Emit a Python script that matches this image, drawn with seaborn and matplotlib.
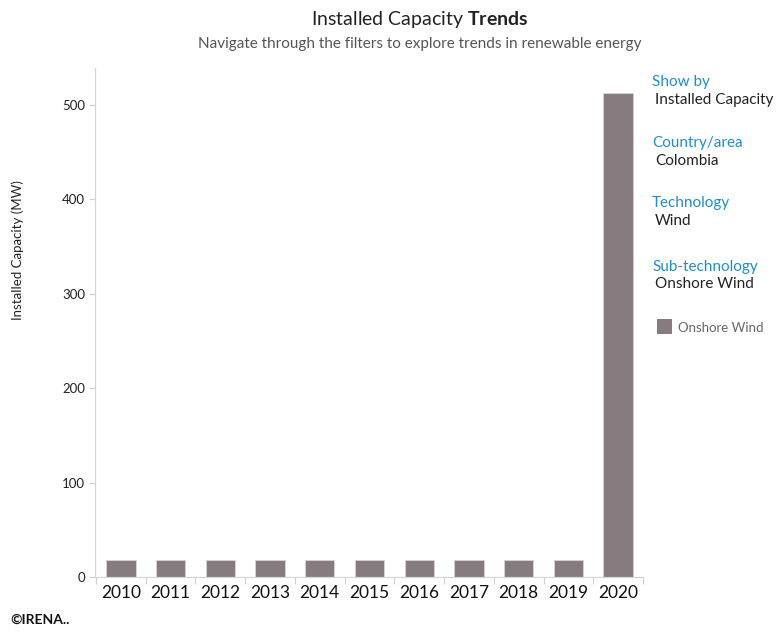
import matplotlib
matplotlib.use("Agg")
import matplotlib.pyplot as plt
import seaborn as sns
import pandas as pd

years = ["2010", "2011", "2012", "2013", "2014", "2015", "2016", "2017", "2018", "2019", "2020"]
capacity = [18.4, 18.4, 18.4, 18.4, 18.4, 18.4, 18.4, 18.4, 18.4, 18.4, 512]
yticks = [0, 100, 200, 300, 400, 500]

sns.set_theme(style="white")
plt.rcParams['font.family'] = ['Lato', 'DejaVu Sans']
plt.rcParams['mathtext.fontset'] = 'custom'
plt.rcParams['mathtext.rm'] = 'Lato'
plt.rcParams['mathtext.bf'] = 'Lato:bold'

df = pd.DataFrame({"Year": years, "Capacity": capacity})

fig = plt.figure(figsize=(7.82, 6.32), dpi=100)
ax = fig.add_axes([95/782, 1-577/632, (643-95)/782, (577-68)/632])

bar_color = "#867b7f"
sns.barplot(data=df, x="Year", y="Capacity", color=bar_color, width=0.59,
            saturation=1, edgecolor="#d8d4d5", linewidth=0.6, ax=ax)

ax.set_xlim(-0.52, 10.5)
ax.set_ylim(0, 539)
ax.set_yticks(yticks)
ax.set_yticklabels([str(v) for v in yticks], fontsize=9.5, color="#222222")
ax.set_xticks(range(len(years)))
ax.set_xticklabels(years, fontsize=12.5, color="#111111")
ax.set_xticks([i - 0.5 for i in range(len(years) + 1)], minor=True)
ax.tick_params(axis="x", which="major", length=0, pad=6)
ax.tick_params(axis="x", which="minor", length=5, color="#d0d0d0", width=0.8, direction="out")
ax.tick_params(axis="y", which="major", length=4, color="#d0d0d0", width=0.8, pad=3, direction="out")
ax.tick_params(left=True, bottom=True, which="both")
ax.set_xlabel("")
ax.set_ylabel("")
for s in ["top", "right"]:
    ax.spines[s].set_visible(False)
for s in ["left", "bottom"]:
    ax.spines[s].set_color("#d6d6d6")
    ax.spines[s].set_linewidth(0.9)

fig.text(18/782, 1-250/632, "Installed Capacity (MW)", rotation=90, fontsize=9.5,
         color="#222222", ha="center", va="center")

fig.text(420/782, 1-20/632, "Installed Capacity $\\bf{Trends}$", fontsize=14,
         color="#222222", ha="center", va="center")
fig.text(420/782, 1-44/632, "Navigate through the filters to explore trends in renewable energy",
         fontsize=11, color="#555555", ha="center", va="center")

blue = "#1f8fc9"
dark = "#222222"
panel = [("Show by", "Installed Capacity", 82, 100),
         ("Country/area", "Colombia", 143, 161),
         ("Technology", "Wind", 203, 221),
         ("Sub-technology", "Onshore Wind", 267, 284)]
for head, val, yh, yv in panel:
    fig.text(652/782, 1-yh/632, head, fontsize=11, color=blue, ha="left", va="center")
    fig.text(655/782, 1-yv/632, val, fontsize=11, color=dark, ha="left", va="center")

fig.patches.append(matplotlib.patches.Rectangle((657/782, 1-334/632), 15/782, 15/632,
                   transform=fig.transFigure, facecolor=bar_color, edgecolor="none"))
fig.text(678/782, 1-328/632, "Onshore Wind", fontsize=9.5, color="#666666", ha="left", va="center")

fig.text(10/782, 1-620/632, "©IRENA..", fontsize=10, fontweight="bold", color="#111111",
         ha="left", va="center")

fig.savefig("out.png", dpi=100)
